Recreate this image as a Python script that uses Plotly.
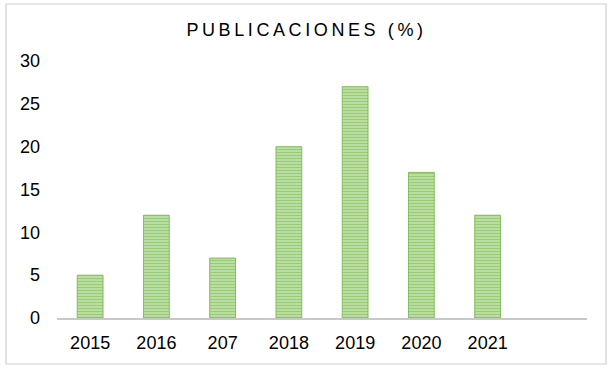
import plotly.graph_objects as go

# Data
years = ["2015", "2016", "207", "2018", "2019", "2020", "2021"]
publicaciones = [5, 12, 7, 20, 27, 17, 12]
n_slots = 8  # axis leaves room for one extra empty category
y_ticks = [0, 5, 10, 15, 20, 25, 30]

W, H = 613, 372
L, R, T, B = 57, 26, 61, 54
pw, ph = W - L - R, H - T - B

def px_x(p):
    return (p - L) / pw

def px_y(p):
    return (H - B - p) / ph

positions = list(range(len(years)))

fig = go.Figure()
fig.add_trace(go.Bar(
    x=positions,
    y=publicaciones,
    width=0.39,
    marker=dict(
        color="#b9dc9f",
        line=dict(color="#6fb43f", width=0.8),
        pattern=dict(shape="-", size=3, solidity=0.6,
                     fgcolor="#62ad31", bgcolor="#cfe8bd"),
    ),
    hoverinfo="x+y",
))

fig.update_layout(
    width=W, height=H,
    margin=dict(l=L, r=R, t=T, b=B),
    paper_bgcolor="white",
    plot_bgcolor="white",
    showlegend=False,
    font=dict(family="Liberation Sans, Arial, sans-serif", size=18, color="#000000"),
    title=dict(
        text='<span style="letter-spacing:3.6px">PUBLICACIONES (%)</span>',
        x=0.5, xref="container", xanchor="center",
        y=1 - 30 / H, yref="container", yanchor="middle",
        font=dict(size=18, color="#000000"),
    ),
    xaxis=dict(
        range=[-0.5, n_slots - 0.5],
        tickmode="array",
        tickvals=positions,
        ticktext=years,
        showgrid=False,
        zeroline=False,
        showline=True,
        linecolor="#c8c8c8",
        linewidth=1.5,
        ticks="",
        ticklabelstandoff=8,
        fixedrange=True,
    ),
    yaxis=dict(
        range=[0, 30],
        tickmode="array",
        tickvals=y_ticks,
        showgrid=False,
        zeroline=False,
        showline=False,
        ticks="",
        ticklabelstandoff=16,
        fixedrange=True,
    ),
    shapes=[dict(
        type="rect", xref="paper", yref="paper",
        x0=px_x(6), x1=px_x(606), y0=px_y(364), y1=px_y(4),
        line=dict(color="#d0d0d0", width=1.2),
        fillcolor="rgba(0,0,0,0)", layer="below",
    )],
)

fig.write_html(
    "out.html",
    config={"displayModeBar": False},
    post_script="document.body.style.margin='0';document.body.style.overflow='hidden';",
)
